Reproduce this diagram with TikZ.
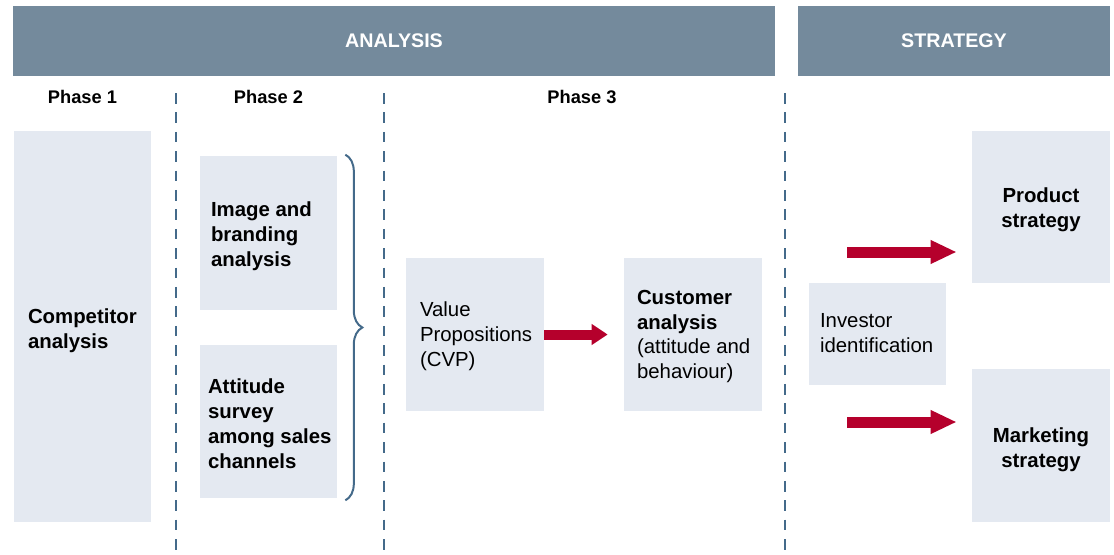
\documentclass[tikz,border=0pt]{standalone}
\usepackage{fontspec}
\setmainfont{Liberation Sans}
\usetikzlibrary{arrows.meta,decorations.pathreplacing}
\definecolor{bannerblue}{RGB}{116,138,156}
\definecolor{boxfill}{RGB}{228,233,241}
\definecolor{divider}{RGB}{68,106,138}
\definecolor{arrowred}{RGB}{181,0,44}
\begin{document}
\begin{tikzpicture}[x=0.02cm,y=-0.02cm,
  banner/.style={fill=bannerblue,text=white,inner sep=0pt,
    font=\fontsize{11.2}{13}\selectfont\bfseries},
  phase/.style={font=\fontsize{10.4}{12.5}\selectfont\bfseries,inner sep=0pt},
  card/.style={fill=boxfill,inner sep=0pt,minimum width=2.75cm},
  cardtext/.style={anchor=west,inner sep=0pt,align=left,
    font=\fontsize{11.6}{14.2}\selectfont},
  boldtext/.style={cardtext,font=\fontsize{11.6}{14.2}\selectfont\bfseries},
  divline/.style={divider,line width=0.055cm,dash pattern=on 0.214cm off 0.174cm},
  bigarrow/.style={arrowred,line width=0.22cm,
    -{Triangle[length=0.52cm,width=0.44cm]}},
  smallarrow/.style={arrowred,line width=0.2cm,
    -{Triangle[length=0.32cm,width=0.40cm]}},
  bracket/.style={divider,line width=0.04cm,
    decorate,decoration={brace,amplitude=0.34cm}}]
\path[use as bounding box] (0,0) rectangle (1114,554);

% header bars
\node[banner,minimum width=15.24cm,minimum height=1.40cm] (analysis) at (394,41) {ANALYSIS};
\node[banner,minimum width=6.24cm,minimum height=1.40cm] (strategy) at (954,41) {STRATEGY};

% phase titles
\node[phase] (ph1) at (82.5,97) {Phase 1};
\node[phase] (ph2) at (268.5,97) {Phase 2};
\node[phase] (ph3) at (582,97) {Phase 3};

% dividers between phases
\draw[divline] (176,93) -- (176,554);
\draw[divline] (384,93) -- (384,554);
\draw[divline] (785,93) -- (785,554);

% analysis cards
\node[card,minimum width=2.74cm,minimum height=7.82cm] (comp) at (82.5,326.5) {};
\node[card,minimum width=2.74cm,minimum height=3.08cm] (img) at (268.5,233) {};
\node[card,minimum width=2.74cm,minimum height=3.06cm] (att) at (268.5,421.5) {};
\node[card,minimum width=2.76cm,minimum height=3.06cm] (val) at (475,334.5) {};
\node[card,minimum width=2.76cm,minimum height=3.06cm] (cust) at (693,334.5) {};

% strategy cards
\node[card,minimum width=2.74cm,minimum height=2.04cm] (inv) at (877.5,334) {};
\node[card,minimum width=2.76cm,minimum height=3.04cm] (prod) at (1041,207) {};
\node[card,minimum width=2.76cm,minimum height=3.06cm] (mkt) at (1041,445.5) {};

% card texts
\node[boldtext,xshift=0.28cm,yshift=-0.08cm] (compt) at (comp.west) {Competitor\\analysis};
\node[boldtext,xshift=0.22cm,yshift=-0.06cm] (imgt) at (img.west) {Image and\\branding\\analysis};
\node[boldtext,xshift=0.16cm,yshift=-0.04cm] (attt) at (att.west) {Attitude\\survey\\among sales\\channels};
\node[cardtext,xshift=0.28cm,yshift=-0.04cm] (valt) at (val.west) {Value\\Propositions\\(CVP)};
\node[cardtext,xshift=0.26cm,yshift=-0.04cm] (custt) at (cust.west)
  {\textbf{Customer}\\\textbf{analysis}\\(attitude and\\behaviour)};
\node[cardtext,xshift=0.22cm,yshift=0.02cm] (invt) at (inv.west) {Investor\\identification};
\node[boldtext,anchor=center,align=center,yshift=-0.05cm] (prodt) at (prod.center) {Product\\strategy};
\node[boldtext,anchor=center,align=center,yshift=-0.08cm] (mktt) at (mkt.center) {Marketing\\strategy};

% brace grouping the phase 2 studies
\draw[bracket] ([xshift=0.16cm,yshift=0.02cm]img.north east) -- ([xshift=0.16cm,yshift=-0.04cm]att.south east);

% flow arrows
\draw[smallarrow,shorten >=0.32cm] (val.east) -- (cust.west);
\coordinate (up) at (847,252);
\coordinate (down) at (847,422);
\draw[bigarrow,shorten >=0.30cm] (up) -- (up -| prod.west);
\draw[bigarrow,shorten >=0.30cm] (down) -- (down -| mkt.west);
\end{tikzpicture}
\end{document}
